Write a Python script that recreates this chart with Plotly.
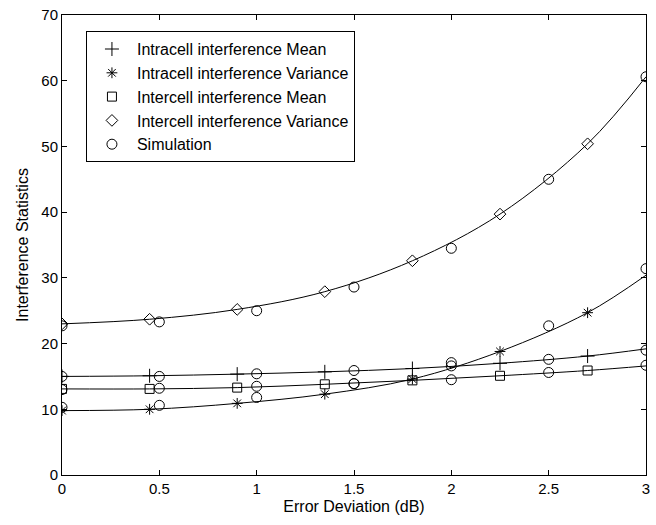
import plotly.graph_objects as go

# Analytical curves (marker every 0.45 dB)
x_model = [0, 0.45, 0.9, 1.35, 1.8, 2.25, 2.7, 3.0]
intra_mean = [15.0, 15.1, 15.35, 15.7, 16.2, 17.0, 18.1, 19.2]
intra_var = [9.8, 10.0, 10.9, 12.3, 14.6, 18.8, 24.7, 30.4]
inter_mean = [13.1, 13.1, 13.3, 13.8, 14.4, 15.1, 15.9, 16.6]
inter_var = [23.0, 23.7, 25.2, 27.9, 32.6, 39.7, 50.4, 60.6]

# Simulation points
x_sim = [0, 0.5, 1, 1.5, 2, 2.5, 3]
sim_intra_mean = [15.0, 15.0, 15.4, 15.9, 16.6, 17.6, 19.0]
sim_intra_var = [10.3, 10.6, 11.8, 13.9, 17.1, 22.7, 31.4]
sim_inter_mean = [13.0, 13.2, 13.5, 13.9, 14.5, 15.6, 16.7]
sim_inter_var = [22.7, 23.3, 25.0, 28.6, 34.5, 45.0, 60.6]

x_ticks = [0, 0.5, 1, 1.5, 2, 2.5, 3]
y_ticks = [0, 10, 20, 30, 40, 50, 60, 70]

FONT = "Liberation Sans, Arial, sans-serif"
fig = go.Figure()

series = [
    ("Intracell interference Mean", intra_mean, "cross-thin-open", 10),
    ("Intracell interference Variance", intra_var, "asterisk-open", 9),
    ("Intercell interference Mean", inter_mean, "square-open", 9),
    ("Intercell interference Variance", inter_var, "diamond-open", 9),
]

# lines (smooth)
for name, ys, sym, sz in series:
    fig.add_trace(go.Scatter(x=x_model, y=ys, mode="lines",
                             line=dict(color="black", width=1, shape="spline"),
                             showlegend=False, hoverinfo="skip"))
# markers (not at the last point)
for name, ys, sym, sz in series:
    fig.add_trace(go.Scatter(x=x_model[:-1], y=ys[:-1], mode="markers", name=name,
                             marker=dict(symbol=sym, size=sz, color="black",
                                         line=dict(color="black", width=1))))

# simulation
for i, ys in enumerate([sim_intra_mean, sim_intra_var, sim_inter_mean, sim_inter_var]):
    fig.add_trace(go.Scatter(x=x_sim, y=ys, mode="markers", name="Simulation",
                             showlegend=(i == 0),
                             marker=dict(symbol="circle-open", size=10, color="black",
                                         line=dict(color="black", width=1))))

axis_common = dict(showgrid=False, zeroline=False, showline=True, linecolor="black",
                   linewidth=1, mirror="ticks", ticks="inside", ticklen=5,
                   tickcolor="black", tickfont=dict(family=FONT, size=15, color="black"))

fig.update_layout(
    width=656, height=525,
    margin=dict(l=62, r=6, t=15, b=50),
    plot_bgcolor="white", paper_bgcolor="white",
    font=dict(family=FONT, color="black"),
    xaxis=dict(range=[0, 3], tickvals=x_ticks, ticktext=[str(v) for v in ["0", "0.5", "1", "1.5", "2", "2.5", "3"]],
               title=dict(text="Error Deviation (dB)", font=dict(family=FONT, size=16), standoff=4),
               **axis_common),
    yaxis=dict(range=[0, 70], tickvals=y_ticks,
               title=dict(text="Interference Statistics", font=dict(family=FONT, size=16), standoff=8),
               **axis_common),
    legend=dict(x=0.041, y=0.965, xanchor="left", yanchor="top",
                bgcolor="white", bordercolor="black", borderwidth=1,
                font=dict(family=FONT, size=16, color="black"),
                tracegroupgap=0, itemwidth=40),
)

fig.write_html("out.html")
